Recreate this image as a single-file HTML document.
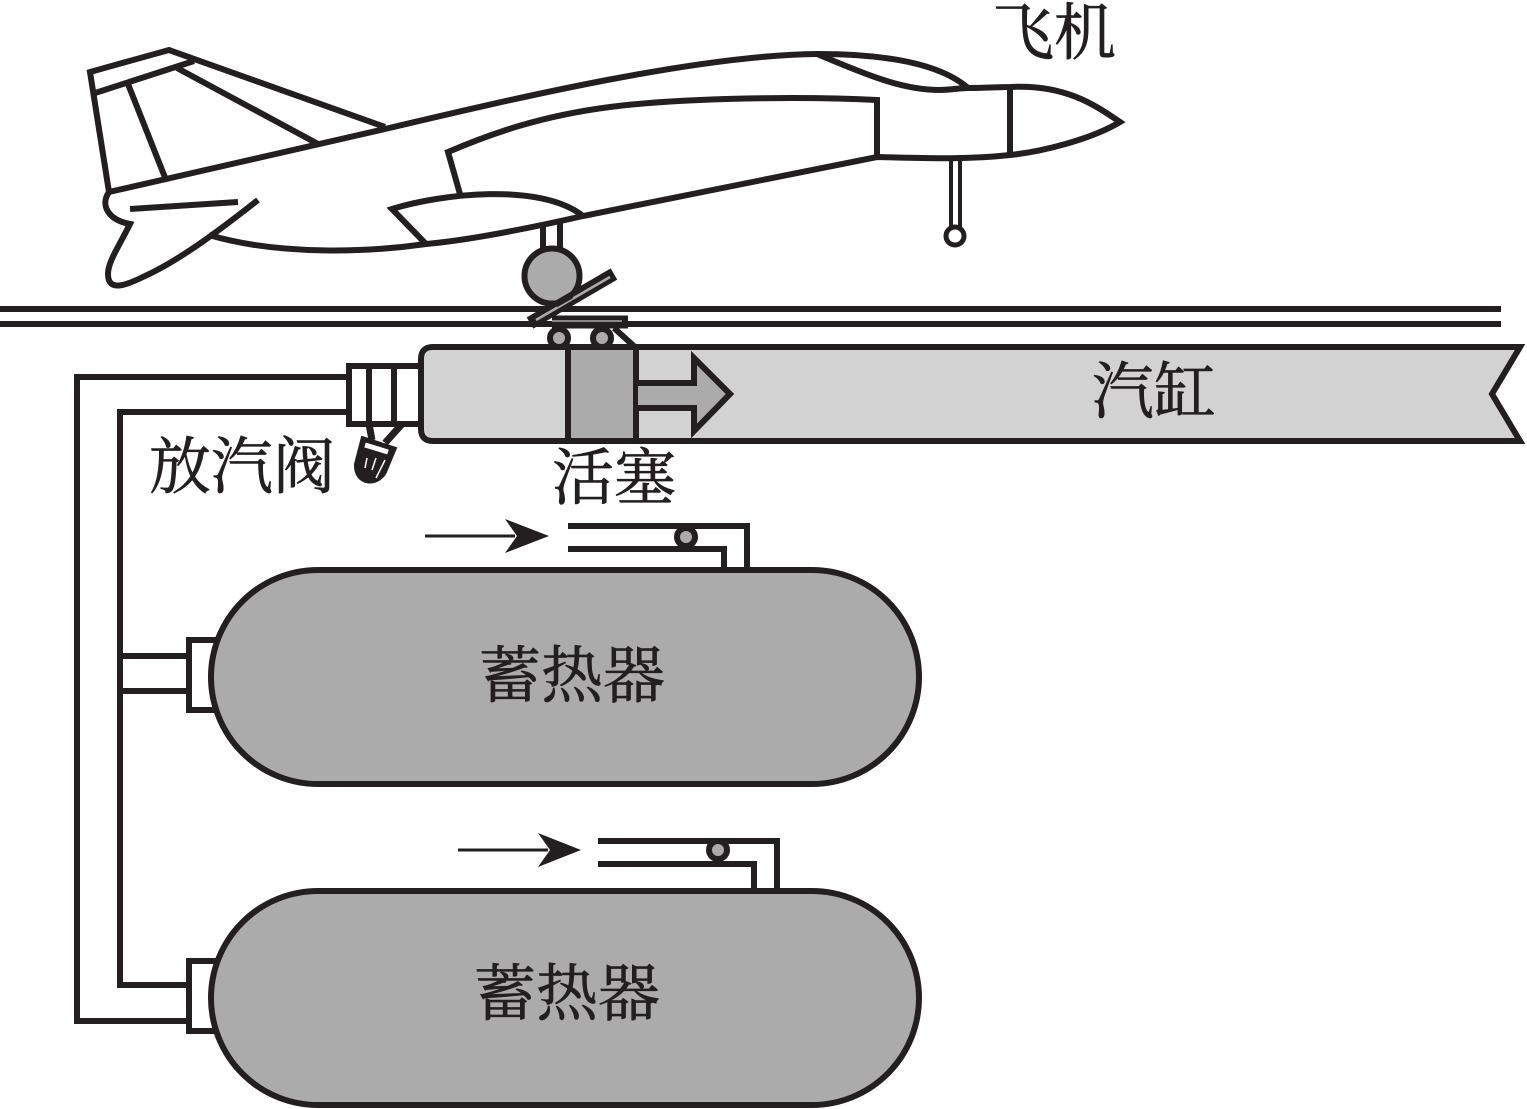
<!DOCTYPE html>
<html><head><meta charset="utf-8"><style>
html,body{margin:0;padding:0;background:#fff}
svg{display:block}
text{font-family:"Liberation Serif","Noto Serif CJK SC",serif;fill:#231f20;stroke:#231f20;stroke-width:.7}
</style></head><body>
<svg width="1527" height="1109" viewBox="0 0 1527 1109" xmlns="http://www.w3.org/2000/svg">
<g fill="none" stroke="#231f20" stroke-width="6" stroke-linejoin="miter">
<!-- plane -->
<path d="M385 127L169 50L90 72L109 192"/>
<path d="M92 94L194 61"/>
<path d="M177 68L320 145"/>
<path d="M128 84L166 180"/>
<path d="M109 192L385 129C520 97 700 55 817 54C900 54 945 68 968 88C985 88 1000 87 1010 87C1065 84 1095 105 1120 122C1090 140 1040 152 1010 155C965 160 920 158 877 157L583 216C530 228 470 240 426 244C370 252 280 256 209 235"/>
<path d="M109 192C100 205 108 220 130 224C118 248 108 262 108 274C108 292 125 286 145 276C180 260 220 230 258 200"/>
<path d="M130 209L238 202"/>
<path d="M817 54C860 72 900 90 940 90C950 90 960 88 968 88"/>
<path d="M877 157V100C800 96 680 98 610 107C540 116 490 134 448 152L460 194"/>
<path d="M1010 88V155"/>
<path d="M426 244L392 209C440 194 540 182 583 216"/>
<path d="M543 225V250M560 222V250"/>
<!-- nose gear -->
<path d="M951 158V228M960 158V228" stroke-width="4"/>
<circle cx="955" cy="236" r="9" fill="#fff" stroke-width="5"/>
<!-- rails -->
<path d="M0 309H1501M0 324H1501"/>
<!-- cylinder -->
<path d="M433 347H1520L1492 394L1520 441H433Q421 441 421 429V359Q421 347 433 347Z" fill="#d3d2d2"/>
<rect x="568" y="347" width="68" height="94" fill="#ababab"/>
<path d="M638 383H694V358L730 394L694 431V408H638" fill="#ababab"/>
<!-- valve -->
<rect x="349" y="366" width="72" height="58" fill="#fff"/>
<path d="M369 366V424M394 366V424"/>
<path d="M369 424L372 440M402 424L385 443" stroke-width="7"/>
<path d="M362 437L396 448L386 472C378 488 354 486 355 464Z" fill="#231f20" stroke-width="2"/>
<path d="M365 445L388 452" stroke="#fff" stroke-width="5"/>
<path d="M367 458L365 468M376 458L372 470M385 460L376 478" stroke="#fff" stroke-width="1.5"/>
<!-- pipes -->
<path d="M349 377H77V1021H190"/>
<path d="M349 412H120V985H190"/>
<path d="M120 656H190M120 691H190"/>
<!-- accumulators -->
<rect x="189" y="640" width="40" height="70" fill="#fff"/>
<rect x="189" y="961" width="40" height="70" fill="#fff"/>
<rect x="211" y="570" width="708" height="214" rx="107" ry="107" fill="#ababab"/>
<rect x="211" y="891" width="708" height="214" rx="107" ry="107" fill="#ababab"/>
<!-- inlet pipes -->
<path d="M568 526H747V568M568 549H724V568"/>
<path d="M598 841H777V888M598 864H754V888"/>
<circle cx="686" cy="537" r="9" fill="#ababab"/>
<circle cx="718" cy="850" r="9" fill="#ababab"/>
<path d="M425 536H515M458 850H548" stroke-width="3"/>
<!-- wheel and brake -->
<circle cx="552" cy="276" r="27.5" fill="#ababab"/>
<path d="M530 323L614 274" stroke-width="13"/>
<path d="M536 320L610 277" stroke="#ababab" stroke-width="2.5"/>
<path d="M556 305L572 296" stroke-width="5"/>
<path d="M552 322H628" stroke-width="13"/>
<path d="M552 321H622" stroke="#ababab" stroke-width="1.5"/>
<circle cx="559" cy="338" r="9" fill="#ababab"/>
<circle cx="602" cy="338" r="9" fill="#ababab"/>
<path d="M614 328L635 347"/>
</g>
<path d="M505 519L549 536L505 553L517 536Z" fill="#231f20"/>
<path d="M538 833L581 850L538 867L550 850Z" fill="#231f20"/>
<text x="992" y="54" font-size="62">飞机</text>
<text x="1092" y="413" font-size="62">汽缸</text>
<text x="149" y="488" font-size="62">放汽阀</text>
<text x="552" y="499" font-size="62">活塞</text>
<text x="479" y="697" font-size="62">蓄热器</text>
<text x="474" y="1015" font-size="62">蓄热器</text>
</svg>
</body></html>
